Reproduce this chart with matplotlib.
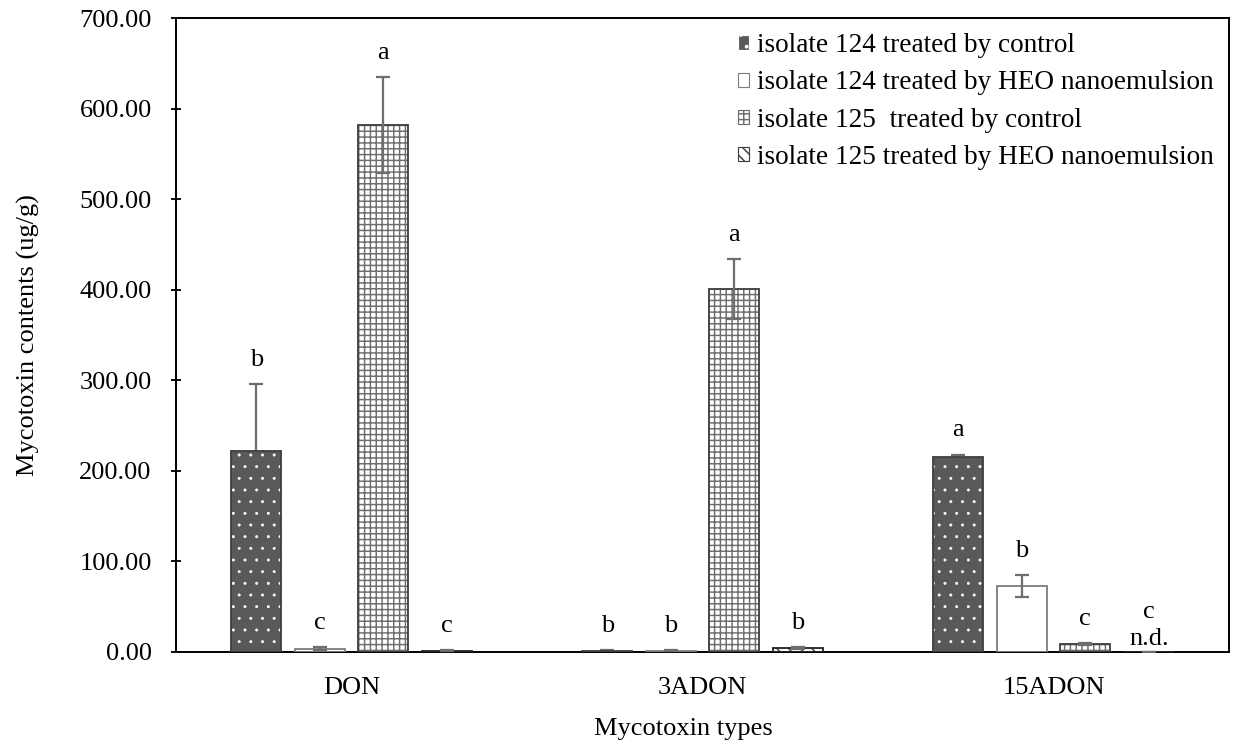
import matplotlib

matplotlib.use("Agg")
import matplotlib.pyplot as plt
import numpy as np

plt.rcParams["font.family"] = ["Liberation Serif", "DejaVu Serif"]
plt.rcParams["hatch.linewidth"] = 0.75

toxins = ["DON", "3ADON", "15ADON"]
series = [
    "isolate 124 treated by control",
    "isolate 124 treated by HEO nanoemulsion",
    "isolate 125  treated by control",
    "isolate 125 treated by HEO nanoemulsion",
]
# mean contents (ug/g) per series, ordered DON, 3ADON, 15ADON
iso124_ctrl = [222.0, 1.5, 215.0]
iso124_heo = [3.5, 1.5, 73.0]
iso125_ctrl = [582.0, 401.0, 8.5]
iso125_heo = [1.5, 4.0, 0.0]
# standard deviations
iso124_ctrl_sd = [74.0, 0.5, 3.0]
iso124_heo_sd = [1.5, 0.5, 12.0]
iso125_ctrl_sd = [53.0, 33.0, 1.0]
iso125_heo_sd = [0.5, 1.0, 0.0]
# significance letters
iso124_ctrl_sig = ["b", "b", "a"]
iso124_heo_sig = ["c", "b", "b"]
iso125_ctrl_sig = ["a", "a", "c"]
iso125_heo_sig = ["c", "b", "c"]
# not detected flags
iso125_heo_nd = [False, False, True]

means = [iso124_ctrl, iso124_heo, iso125_ctrl, iso125_heo]
sds = [iso124_ctrl_sd, iso124_heo_sd, iso125_ctrl_sd, iso125_heo_sd]
sigs = [iso124_ctrl_sig, iso124_heo_sig, iso125_ctrl_sig, iso125_heo_sig]
nds = [[False] * 3, [False] * 3, [False] * 3, iso125_heo_nd]

styles = [
    dict(face="#595959", edge="#404040", hatch="..", hcol="white", hlw=0.3, ez=1.5),
    dict(face="white", edge="#7f7f7f", hatch=None, hcol=None, hlw=0.75, ez=4),
    dict(face="white", edge="#404040", hatch="++++", hcol="#6e6e6e", hlw=0.75, ez=4),
    dict(face="white", edge="#262626", hatch="\\\\\\\\", hcol="#404040", hlw=0.75, ez=4),
]

# dpi 140 so the hatch cell (one inch) is 140 px; sizes below are in points at that dpi
DPI = 140
fig = plt.figure(figsize=(1236 / DPI, 750 / DPI), dpi=DPI)
ax = fig.add_axes([0.1424, 0.1307, 0.852, 0.845])

x = np.arange(len(toxins))
step, width = 0.181, 0.143
fs = 13.6
err_col = "#6e6e6e"

handles = []
for i, (m, s, sg, nd, st) in enumerate(zip(means, sds, sigs, nds, styles)):
    xi = x + (i - 1.5) * step
    with plt.rc_context({"hatch.linewidth": st["hlw"]}):
        if st["hatch"]:
            # hatch pass: the hatch takes the edge colour, so the outline is drawn separately
            ax.bar(xi, m, width, color=st["face"], edgecolor=st["hcol"],
                   hatch=st["hatch"], linewidth=0, zorder=2)
        else:
            ax.bar(xi, m, width, color=st["face"], linewidth=0, zorder=2)
        # legend proxy
        h = matplotlib.patches.Patch(facecolor=st["face"],
                                     edgecolor=st["hcol"] if st["hatch"] else st["edge"],
                                     hatch=st["hatch"], linewidth=0.6)
    handles.append(h)
    ax.bar(xi, m, width, fill=False, edgecolor=st["edge"], linewidth=0.95, zorder=3)
    ax.errorbar(xi, m, yerr=s, fmt="none", ecolor=err_col, elinewidth=1.15,
                capsize=3.6, capthick=1.15, zorder=st["ez"])
    for xx, mm, ss, lt, flag in zip(xi, m, s, sg, nd):
        if flag:
            ax.text(xx, 8, "n.d.", ha="center", va="baseline", fontsize=fs)
            ax.text(xx, 38, lt, ha="center", va="baseline", fontsize=fs)
        else:
            ax.text(xx, mm + ss + 20, lt, ha="center", va="baseline", fontsize=fs)

ax.set_xlim(-0.5, 2.5)
ax.set_ylim(0, 700)
ax.set_yticks(np.arange(0, 701, 100))
ax.yaxis.set_major_formatter(matplotlib.ticker.FormatStrFormatter("%.2f"))
ax.set_xticks(x)
ax.set_xticklabels(toxins)
ax.tick_params(axis="y", direction="inout", length=5, width=0.95, labelsize=fs, pad=10)
ax.tick_params(axis="x", length=0, labelsize=fs, pad=13)
for sp in ax.spines.values():
    sp.set_linewidth(1.0)

ax.set_xlabel("Mycotoxin types", fontsize=fs, labelpad=9.5, x=0.482)
ax.set_ylabel("Mycotoxin contents (ug/g)", fontsize=fs, labelpad=20)

ax.legend(handles, series, loc="upper right", frameon=False, fontsize=14,
          handlelength=0.42, handleheight=0.42, handletextpad=0.3,
          labelspacing=0.45, borderaxespad=0.15, bbox_to_anchor=(1.0, 1.0))

fig.savefig("out.png", dpi=DPI)
